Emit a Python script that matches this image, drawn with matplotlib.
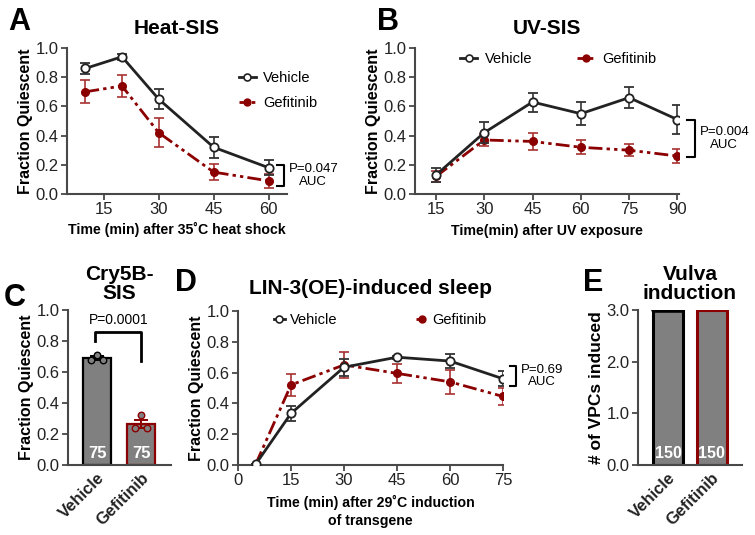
import matplotlib
matplotlib.use('Agg')
import matplotlib.pyplot as plt
from matplotlib.lines import Line2D

plt.rcParams['font.family'] = ['Liberation Sans', 'DejaVu Sans']

# ---------------------------------------------------------------- data
# A: Heat-SIS
heat_t = [10, 20, 30, 45, 60]
heat_veh = [0.86, 0.94, 0.65, 0.32, 0.18]
heat_veh_err = [0.04, 0.02, 0.07, 0.07, 0.05]
heat_gef = [0.70, 0.74, 0.42, 0.15, 0.09]
heat_gef_err = [0.08, 0.075, 0.10, 0.053, 0.05]

# B: UV-SIS
uv_t = [15, 30, 45, 60, 75, 90]
uv_veh = [0.13, 0.42, 0.63, 0.55, 0.66, 0.51]
uv_veh_err = [0.05, 0.07, 0.065, 0.08, 0.07, 0.10]
uv_gef = [0.12, 0.37, 0.36, 0.32, 0.30, 0.26]
uv_gef_err = [0.04, 0.04, 0.057, 0.047, 0.04, 0.05]

# C: Cry5B-SIS
groups = ['Vehicle', 'Gefitinib']
cry_mean = [0.69, 0.265]
cry_err = [0.015, 0.028]
cry_pts_veh = [0.71, 0.68, 0.68]
cry_pts_gef = [0.32, 0.24, 0.24]
cry_n = ['75', '75']

# D: LIN-3(OE)
lin_t = [5, 15, 30, 45, 60, 75]
lin_veh = [0.005, 0.335, 0.635, 0.70, 0.675, 0.56]
lin_veh_err = [0.0, 0.05, 0.055, 0.01, 0.047, 0.05]
lin_gef = [0.005, 0.52, 0.65, 0.595, 0.54, 0.445]
lin_gef_err = [0.0, 0.07, 0.085, 0.064, 0.076, 0.054]

# E: Vulva induction
vpc_mean = [3.0, 3.0]
vpc_n = ['150', '150']

# ---------------------------------------------------------------- style
RED = '#8b0000'
RED_ERR = '#a83232'
BLK = '#222222'
GRAY = '#808080'
GEF_LS = (0, (5, 1.5, 1.2, 1.5, 1.2, 1.5))
EDGES = ['black', RED]
YT = [0, 0.2, 0.4, 0.6, 0.8, 1.0]
YTL = ['0.0', '0.2', '0.4', '0.6', '0.8', '1.0']

veh_handle = Line2D([], [], color=BLK, lw=2, marker='o', ms=5, mfc='white',
                    mew=1.2)
gef_handle = Line2D([], [], color=RED, lw=2, ls=(0, (3, 1.5, 1.2, 1.5)),
                    marker='o', ms=5)


def style_axes(ax):
    for s in ['top', 'right']:
        ax.spines[s].set_visible(False)
    for s in ['left', 'bottom']:
        ax.spines[s].set_color('#484848')
        ax.spines[s].set_linewidth(1.5)
    ax.tick_params(colors='#484848', width=1.3, length=4, labelsize=12,
                   labelcolor='#222222', pad=2)


def plot_lines(ax, t, veh, veh_err, gef, gef_err):
    ax.errorbar(t, gef, yerr=gef_err, color=RED, ecolor=RED_ERR, lw=2,
                ls=GEF_LS, marker='o', ms=5.5, capsize=3.5, elinewidth=1.2,
                capthick=1.2, zorder=3)
    ax.errorbar(t, veh, yerr=veh_err, color=BLK, ecolor='#333333', lw=2,
                marker='o', ms=6, mfc='white', mew=1.3, capsize=3.5,
                elinewidth=1.2, capthick=1.2, zorder=4)


def bracket(fig, x0, x1, y0, y1, txt):
    fig.add_artist(plt.Line2D([x0, x1, x1, x0], [y0, y0, y1, y1],
                              color='black', lw=1.5, transform=fig.transFigure))
    fig.text(x1 + 0.006, (y0 + y1) / 2, txt, ha='left', va='center',
             fontsize=9.5, linespacing=1.1, multialignment='center')


def fx(px):
    return px / 755


def fy(py):
    return 1 - py / 535


fig = plt.figure(figsize=(7.55, 5.35), dpi=100)

xlab = dict(fontsize=10.2, fontweight='bold')
ylab = dict(fontsize=11.5, fontweight='bold')
ttl = dict(fontsize=15, fontweight='bold')
leg = dict(frameon=False, fontsize=10.5, handlelength=1.2, handletextpad=0.5)

# ---------------------------------------------------------------- A
axA = fig.add_axes([fx(67), fy(194), fx(287 - 67), fy(48) - fy(194)])
plot_lines(axA, heat_t, heat_veh, heat_veh_err, heat_gef, heat_gef_err)
style_axes(axA)
axA.set_xlim(5, 65)
axA.set_ylim(0, 1.0)
axA.set_xticks([15, 30, 45, 60])
axA.set_yticks(YT)
axA.set_yticklabels(YTL)
axA.set_xlabel('Time (min) after 35˚C heat shock', labelpad=3, **xlab)
axA.set_ylabel('Fraction Quiescent', labelpad=2, **ylab)
axA.set_title('Heat-SIS', pad=10, **ttl)
axA.legend([veh_handle, gef_handle], ['Vehicle', 'Gefitinib'],
           loc='upper left', bbox_to_anchor=(0.72, 0.93), labelspacing=0.75,
           **leg)

# ---------------------------------------------------------------- B
axB = fig.add_axes([fx(415), fy(194), fx(679 - 415), fy(48) - fy(194)])
plot_lines(axB, uv_t, uv_veh, uv_veh_err, uv_gef, uv_gef_err)
style_axes(axB)
axB.set_xlim(8.5, 90.5)
axB.set_ylim(0, 1.0)
axB.set_xticks(uv_t)
axB.set_yticks(YT)
axB.set_yticklabels(YTL)
axB.set_xlabel('Time(min) after UV exposure', labelpad=5, **xlab)
axB.set_ylabel('Fraction Quiescent', labelpad=2, **ylab)
axB.set_title('UV-SIS', pad=10, **ttl)
axB.legend([veh_handle, gef_handle], ['Vehicle', 'Gefitinib'],
           loc='upper left', bbox_to_anchor=(0.12, 1.06), ncol=2,
           columnspacing=3.1, **leg)

# ---------------------------------------------------------------- C
axC = fig.add_axes([fx(68), fy(465), fx(171 - 68), fy(310) - fy(465)])
xs = [0, 1]
axC.bar(xs, cry_mean, width=0.64, color=GRAY, edgecolor=EDGES,
        linewidth=1.6, zorder=2)
for x, m, e, c in zip(xs, cry_mean, cry_err, EDGES):
    axC.errorbar([x], [m], yerr=[e], fmt='none', ecolor=c,
                 capsize=5, elinewidth=1.4, capthick=1.4, zorder=3)
axC.scatter([-0.14, 0.0, 0.14], [cry_pts_veh[1], cry_pts_veh[0], cry_pts_veh[2]],
            s=22, facecolor=GRAY, edgecolor='black', lw=1.0, zorder=4)
axC.scatter([0.86, 1.0, 1.14], [cry_pts_gef[1], cry_pts_gef[0], cry_pts_gef[2]],
            s=22, facecolor=GRAY, edgecolor=RED, lw=1.0, zorder=4)
for x, n in zip(xs, cry_n):
    axC.text(x, 0.075, n, color='white', ha='center', va='center',
             fontsize=12, fontweight='bold', zorder=5)
axC.plot([-0.04, -0.04, 1.0, 1.0], [0.80, 0.86, 0.86, 0.67], color='black',
         lw=2, zorder=4)
axC.text(0.5, 0.935, 'P=0.0001', ha='center', va='center', fontsize=10)
style_axes(axC)
axC.set_xlim(-0.66, 1.68)
axC.set_ylim(0, 1.0)
axC.set_yticks(YT)
axC.set_yticklabels(YTL)
axC.set_xticks(xs)
axC.set_xticklabels(groups, rotation=45, ha='right', rotation_mode='anchor',
                    fontsize=12, fontweight='bold')
axC.tick_params(axis='x', length=0, pad=4)
axC.set_ylabel('Fraction Quiescent', labelpad=2, **ylab)
axC.set_title('Cry5B-\nSIS', pad=8, linespacing=1.0, **ttl)

# ---------------------------------------------------------------- D
axD = fig.add_axes([fx(238), fy(465), fx(503 - 238), fy(311) - fy(465)])
plot_lines(axD, lin_t, lin_veh, lin_veh_err, lin_gef, lin_gef_err)
style_axes(axD)
axD.set_xlim(0, 75)
axD.set_ylim(0, 1.0)
axD.set_xticks([0, 15, 30, 45, 60, 75])
axD.set_yticks(YT)
axD.set_yticklabels(YTL)
axD.set_xlabel('Time (min) after 29˚C induction\nof transgene', labelpad=5,
               linespacing=1.3, **xlab)
axD.set_ylabel('Fraction Quiescent', labelpad=2, **ylab)
axD.set_title('LIN-3(OE)-induced sleep', pad=12, **ttl)
axD.legend([veh_handle, gef_handle], ['Vehicle', 'Gefitinib'],
           loc='upper left', bbox_to_anchor=(0.085, 1.07), ncol=2,
           columnspacing=5.4, **dict(leg, handlelength=0.8, handletextpad=0.3))

# ---------------------------------------------------------------- E
axE = fig.add_axes([fx(638), fy(465), fx(742 - 638), fy(310) - fy(465)])
axE.bar(xs, vpc_mean, width=0.69, color=GRAY, edgecolor=EDGES,
        linewidth=2.2, zorder=2)
axE.plot([-0.33, 0.33], [3.0, 3.0], color='black', lw=4, solid_capstyle='round',
         zorder=3)
for x, n in zip(xs, vpc_n):
    axE.text(x, 0.23, n, color='white', ha='center', va='center',
             fontsize=11.5, fontweight='bold', zorder=5)
style_axes(axE)
axE.set_xlim(-0.69, 1.70)
axE.set_ylim(0, 3.0)
axE.set_yticks([0, 1, 2, 3])
axE.set_yticklabels(['0.0', '1.0', '2.0', '3.0'])
axE.set_xticks(xs)
axE.set_xticklabels(groups, rotation=45, ha='right', rotation_mode='anchor',
                    fontsize=12, fontweight='bold')
axE.tick_params(axis='x', length=0, pad=4)
axE.set_ylabel('# of VPCs induced', labelpad=2, fontsize=12.5,
               fontweight='bold')
axE.set_title('Vulva\ninduction', pad=8, linespacing=1.0, **ttl)

# ---------------------------------------------------------------- brackets
bracket(fig, fx(277), fx(284), fy(165), fy(186), 'P=0.047\nAUC')
bracket(fig, fx(687), fx(695), fy(120), fy(157), 'P=0.004\nAUC')
bracket(fig, fx(510), fx(516), fy(366), fy(386), 'P=0.69\nAUC')

# ---------------------------------------------------------------- letters
for txt, x, y in [('A', 19, 22), ('B', 388, 22), ('C', 15, 298),
                  ('D', 186, 283), ('E', 593, 283)]:
    fig.text(fx(x), fy(y), txt, fontsize=22, fontweight='bold',
             ha='center', va='center')

fig.savefig('out.png', dpi=100)
